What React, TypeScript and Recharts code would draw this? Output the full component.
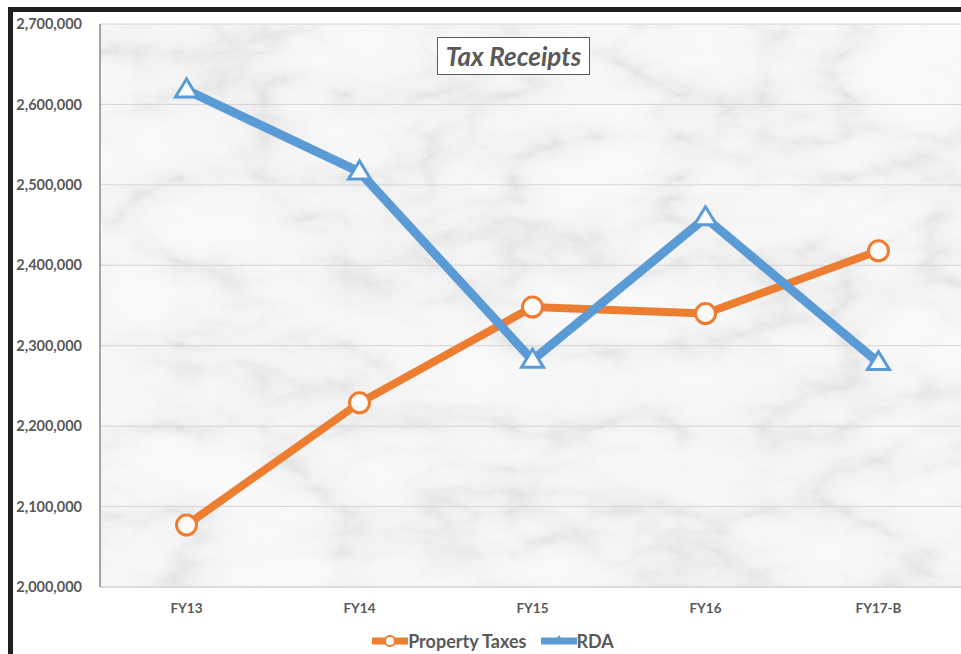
import { CartesianGrid, Legend, Line, LineChart, XAxis, YAxis } from 'recharts'

const categories = ['FY13', 'FY14', 'FY15', 'FY16', 'FY17-B']
const propertyTaxes = [2077000, 2229000, 2348000, 2340000, 2418000]
const rda = [2618000, 2516000, 2282000, 2459000, 2279000]
const yTicks = [2000000, 2100000, 2200000, 2300000, 2400000, 2500000, 2600000, 2700000]

const ORANGE = '#ED7D31'
const BLUE = '#5B9BD5'
const GREY = '#595959'
const FONT = 'Lato, "Open Sans", sans-serif'

const data = categories.map((c, i) => ({ cat: c, tax: propertyTaxes[i], rda: rda[i] }))

const CircleDot = (p: any) => {
  if (p.cx == null || p.cy == null) return null
  return <circle key={p.index} cx={p.cx} cy={p.cy} r={10} fill="#fdfaf7" stroke={ORANGE} strokeWidth={3}/>
}

const TriangleDot = (p: any) => {
  if (p.cx == null || p.cy == null) return null
  const {cx, cy} = p
  return (
    <polygon key={p.index} points={`${cx},${cy - 11} ${cx - 11},${cy + 7} ${cx + 11},${cy + 7}`}
             fill="#fbfdff" stroke={BLUE} strokeWidth={3} strokeLinejoin="miter"/>
  )
}

const LegendContent = () => (
  <div style={{display: 'flex', justifyContent: 'center', alignItems: 'center', height: 22, fontFamily: FONT,
    fontWeight: 700, fontSize: 18, color: GREY}}>
    <svg width={36} height={16}>
      <line x1={0} y1={8} x2={36} y2={8} stroke={ORANGE} strokeWidth={7} strokeLinecap="round"/>
      <circle cx={18} cy={8} r={5} fill="#fff" stroke={ORANGE} strokeWidth={2}/>
    </svg>
    <span style={{marginRight: 14}}>Property Taxes</span>
    <svg width={36} height={16}>
      <line x1={0} y1={8} x2={36} y2={8} stroke={BLUE} strokeWidth={7} strokeLinecap="round"/>
      <polygon points="18,2 12,11 24,11" fill={BLUE}/>
    </svg>
    <span>RDA</span>
  </div>
)

export default function App() {
  return (
    <div style={{position: 'fixed', left: 0, top: 0, width: 961, height: 654, overflow: 'hidden', background: '#fff'}}>
      <svg width={0} height={0} style={{position: 'absolute'}}>
        <defs>
          <filter id="marbleFx" x="0" y="0" width="100%" height="100%">
            <feTurbulence type="turbulence" baseFrequency="0.006 0.012" numOctaves={5} seed={7}/>
            <feColorMatrix type="matrix" values="1 0 0 0 0  1 0 0 0 0  1 0 0 0 0  0 0 0 0 1"/>
            <feComponentTransfer>
              <feFuncR type="table" tableValues="0.76 0.88 0.93 0.95 0.96 0.97"/>
              <feFuncG type="table" tableValues="0.76 0.88 0.93 0.95 0.96 0.97"/>
              <feFuncB type="table" tableValues="0.77 0.89 0.94 0.96 0.97 0.975"/>
            </feComponentTransfer>
          </filter>
          <pattern id="marble" patternUnits="userSpaceOnUse" x={0} y={0} width={961} height={654}>
            <rect x={0} y={0} width={961} height={654} filter="url(#marbleFx)"/>
          </pattern>
        </defs>
      </svg>
      <div style={{position: 'absolute', left: 8, top: 7, width: 953, height: 647,
        borderTop: '5px solid #1e1e1e', borderLeft: '5px solid #1e1e1e'}}/>
      <div style={{position: 'absolute', left: 13, top: 12}}>
        <LineChart width={960} height={660} data={data} margin={{top: 12, right: 8, bottom: 23, left: 0}}>
          <CartesianGrid vertical={false} stroke="#d4d4d4" fill="url(#marble)" fillOpacity={1}/>
          <XAxis dataKey="cat" height={40} padding={{left: 86.5, right: 86.5}}
                 axisLine={{stroke: '#d0d0d0'}} tickLine={false} tickMargin={10}
                 tick={{fill: GREY, fontSize: 13.5, fontWeight: 700, fontFamily: FONT}}/>
          <YAxis width={87} domain={[2000000, 2700000]} ticks={yTicks} interval={0}
                 axisLine={{stroke: '#555'}} tickLine={false} tickSize={0} tickMargin={18}
                 tickFormatter={(n: number) => n.toLocaleString('en-US')}
                 tick={{fill: GREY, fontSize: 14.5, fontWeight: 700, fontFamily: FONT}}/>
          <Legend content={LegendContent} wrapperStyle={{top: 618, left: 0, width: 960}}/>
          <Line dataKey="tax" name="Property Taxes" stroke={ORANGE} strokeWidth={8} dot={CircleDot}
                activeDot={false} isAnimationActive={false}/>
          <Line dataKey="rda" name="RDA" stroke={BLUE} strokeWidth={9} dot={TriangleDot}
                activeDot={false} isAnimationActive={false}/>
        </LineChart>
      </div>
      <div style={{position: 'absolute', left: 437, top: 37, width: 151, height: 36, boxSizing: 'content-box',
        border: '1.5px solid #5a5a5a', background: '#fff', display: 'flex', alignItems: 'center',
        justifyContent: 'center', fontFamily: FONT, fontWeight: 700, fontStyle: 'italic', fontSize: 26, color: GREY}}>
        Tax Receipts
      </div>
    </div>
  )
}
